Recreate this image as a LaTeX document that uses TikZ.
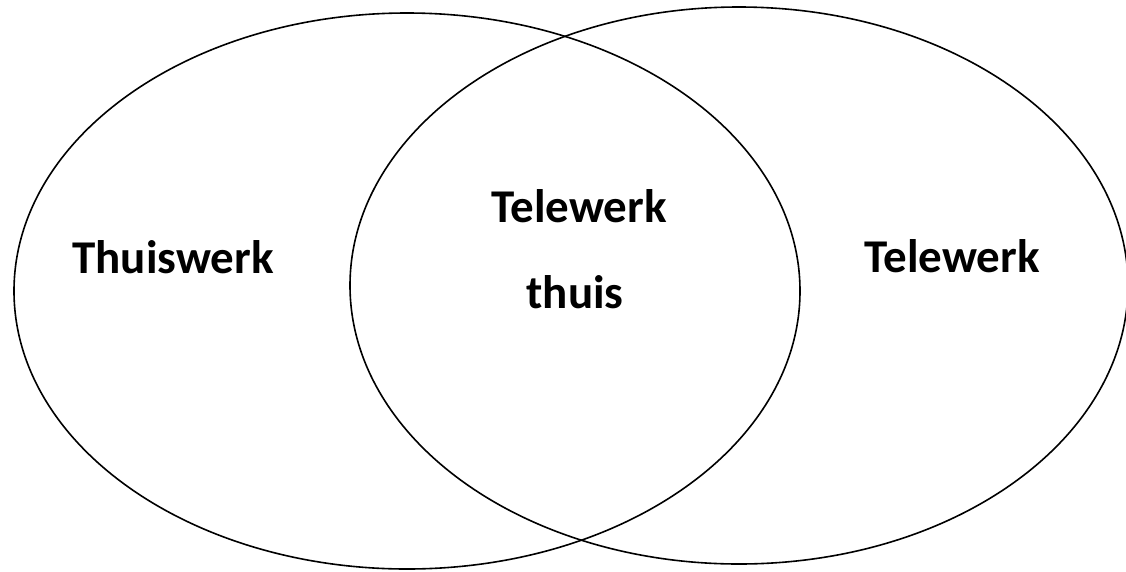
\documentclass[tikz,border=0pt]{standalone}
\usepackage{fontspec}
\setmainfont{Carlito}
\usepackage{tikz}
\usetikzlibrary{positioning}
\tikzset{
	vennset/.style={draw=black, line width=1.6pt}
}
\tikzset{
	setlabel/.style={font=\fontsize{47}{52}\selectfont\bfseries, anchor=base, inner sep=0pt}
}

\begin{document}
\begin{tikzpicture}[x=1pt, y=-1pt]
      \useasboundingbox (0,0) rectangle (1126,571);
      % left set: thuiswerk, right set: telewerk
      \draw[vennset] (407,291) ellipse (393 and 278);
      \draw[vennset] (739,285.5) ellipse (389 and 278.5);
      \node[setlabel] (thuiswerk) at (173,273) {Thuiswerk};
      \node[setlabel] (telewerk) at (952,272) {Telewerk};
      % overlap of both sets
      \node[setlabel] (overlaptop) at (579,222) {Telewerk};
      \node[setlabel] (overlapbot) at (575,308) {thuis};
    \end{tikzpicture}
\end{document}
